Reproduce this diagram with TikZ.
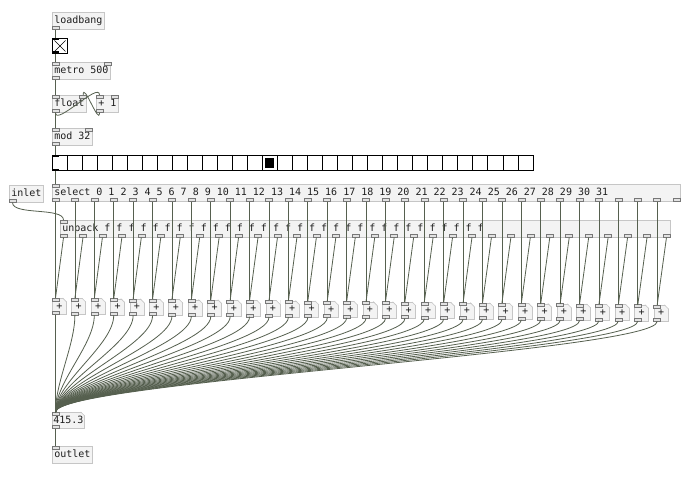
\documentclass[tikz,border=0pt]{standalone}
\usepackage{fontspec}
\setmonofont{DejaVu Sans Mono}
\usetikzlibrary{calc}
\definecolor{boxfill}{HTML}{F3F3F3}
\definecolor{boxline}{HTML}{C6C6C6}
\definecolor{portline}{HTML}{777777}
\definecolor{portfill}{HTML}{E2E2E2}
\definecolor{cordcol}{HTML}{56604F}
\definecolor{txt}{HTML}{1E1E1E}
\tikzset{
  obj/.style={draw=boxline, fill=boxfill, line width=0.6pt, anchor=north west,
    inner xsep=2pt, inner ysep=0pt, minimum height=17pt, text=txt,
    font=\ttfamily\fontsize{10}{12}\selectfont, text height=7.5pt, text depth=2pt},
  atom/.style={obj, minimum height=16pt, minimum width=14pt},
  port/.style={draw=portline, fill=portfill, line width=0.5pt, minimum width=7pt,
    minimum height=3pt, inner sep=0pt, outer sep=0pt},
  iemport/.style={fill=black, minimum width=7pt, minimum height=2.5pt, inner sep=0pt, outer sep=0pt},
  tgl/.style={draw=black, fill=white, line width=1pt, minimum size=15pt, inner sep=0pt, anchor=north west},
  radio/.style={draw=black, fill=white, line width=1.1pt, minimum width=481pt, minimum height=15pt,
    inner sep=0pt, anchor=north west},
  cord/.style={draw=cordcol, line width=0.8pt},
}
% cut the upper right corner of a number box
\newcommand{\atomcorner}[1]{%
  \fill[white] ([xshift=-4pt,yshift=0.6pt]#1.north east) -- ([xshift=0.6pt,yshift=0.6pt]#1.north east)
    -- ([xshift=0.6pt,yshift=-4pt]#1.north east) -- cycle;
  \draw[boxline, line width=0.6pt] ([xshift=-4pt]#1.north east) -- ([yshift=-4pt]#1.north east);}
\begin{document}
\begin{tikzpicture}[x=1pt,y=-1pt]
\fill[white] (0,0) rectangle (695,478);
\useasboundingbox (0,0) rectangle (695,478);
% counter chain
\node[obj] (lb) at (52,12) {loadbang};
\node[port, anchor=south west] (lb-o) at (lb.south west) {};
\node[tgl] (tg) at (52,38) {};
\draw[line width=0.7pt] ([xshift=2.5pt,yshift=-2.5pt]tg.north west) -- ([xshift=-2.5pt,yshift=2.5pt]tg.south east);
\draw[line width=0.7pt] ([xshift=-2.5pt,yshift=-2.5pt]tg.north east) -- ([xshift=2.5pt,yshift=2.5pt]tg.south west);
\node[iemport, anchor=north west] (tg-i) at (tg.north west) {};
\node[iemport, anchor=south west] (tg-o) at (tg.south west) {};
\node[obj] (met) at (52,62) {metro 500};
\node[obj] (fl) at (52,95) {float};
\node[obj] (inc) at (96,95) {+ 1};
\node[obj] (md) at (52,128) {mod 32};
\foreach \n in {met,fl,inc,md} {
  \node[port, anchor=north west] (\n-i0) at (\n.north west) {};
  \node[port, anchor=north east] (\n-i1) at (\n.north east) {};
  \node[port, anchor=south west] (\n-o) at (\n.south west) {};
}
\node[radio] (rad) at (52,155) {};
\foreach \c in {1,...,31}
  \draw[line width=0.8pt] ([xshift=\c*15.03pt]rad.north west) -- ([xshift=\c*15.03pt]rad.south west);
\fill[black] ([xshift=14*15.03pt+3pt,yshift=-3pt]rad.north west) rectangle ([xshift=15*15.03pt-3pt,yshift=3pt]rad.south west);
\node[iemport, anchor=north west] (rad-i) at (rad.north west) {};
\node[iemport, anchor=south west] (rad-o) at (rad.south west) {};
% router
\node[obj] (inl) at (9,185) {inlet};
\node[port, anchor=south west] (inl-o) at (inl.south west) {};
\node[obj] (sel) at (52,184) {\makebox[624pt][l]{select 0 1 2 3 4 5 6 7 8 9 10 11 12 13 14 15 16 17 18 19 20 21 22 23 24 25 26 27 28 29 30 31}};
\node[port, anchor=north west] (sel-i) at (sel.north west) {};
\foreach \i in {0,...,32}
  \node[port, anchor=south west] (sel-o\i) at ([xshift=\i*19.41pt]sel.south west) {};
\node[obj] (unp) at (60,220) {\makebox[606pt][l]{unpack f f f f f f f f f f f f f f f f f f f f f f f f f f f f f f f f}};
\node[port, anchor=north west] (unp-i) at (unp.north west) {};
\foreach \i in {0,...,31}
  \node[port, anchor=south west] (unp-o\i) at ([xshift=\i*19.45pt]unp.south west) {};
% one number box per step
\foreach \i in {0,...,31} {
  \pgfmathsetmacro{\ax}{52+19.41*\i}
  \pgfmathsetmacro{\ay}{298+0.22*\i}
  \node[atom] (a\i) at (\ax,\ay) {+};
  \atomcorner{a\i}
  \node[port, anchor=north west] (a\i-i) at (a\i.north west) {};
  \node[port, anchor=south west] (a\i-o) at (a\i.south west) {};
}
\node[atom, inner xsep=1pt] (num) at (52,412) {415.3};
\atomcorner{num}
\node[port, anchor=north west] (num-i) at (num.north west) {};
\node[port, anchor=south west] (num-o) at (num.south west) {};
\node[obj] (outl) at (52,446) {outlet};
\node[port, anchor=north west] (outl-i) at (outl.north west) {};
% cords
\draw[cord] (lb-o.south) -- (tg-i.north);
\draw[cord] (tg-o.south) -- (met-i0.north);
\draw[cord] (met-o.south) -- (fl-i0.north);
\draw[cord] (fl-o.south) .. controls +(0,14) and +(0,-14) .. (inc-i0.north);
\draw[cord] (inc-o.south) .. controls +(0,14) and +(0,-14) .. (fl-i1.north);
\draw[cord] (fl-o.south) -- (md-i0.north);
\draw[cord] (md-o.south) -- (rad-i.north);
\draw[cord] (rad-o.south) -- (sel-i.north);
\draw[cord] (inl-o.south) .. controls +(0,13) and +(0,-13) .. (unp-i.north);
\foreach \i in {0,...,31} {
  \draw[cord] (sel-o\i.south) -- (a\i-i.north);
  \draw[cord] (unp-o\i.south) -- (a\i-i.north);
  \draw[cord] (a\i-o.south) .. controls +(0,30) and +(0,-30) .. (num-i.north);
}
\draw[cord] (num-o.south) -- (outl-i.north);
\end{tikzpicture}
\end{document}
